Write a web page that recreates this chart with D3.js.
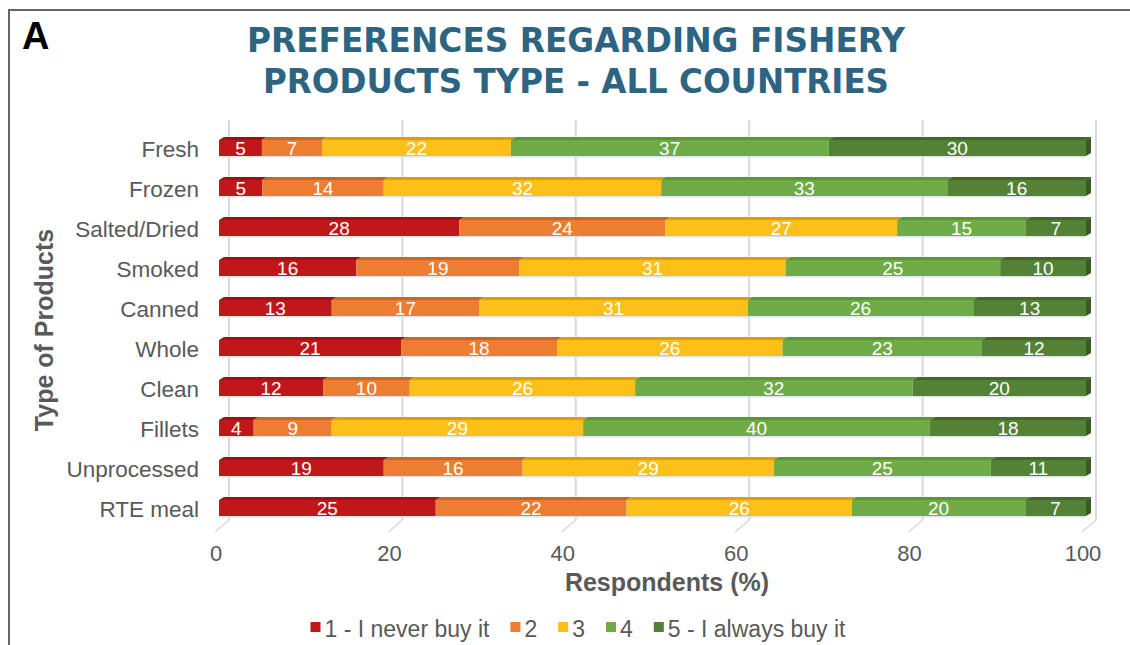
<!DOCTYPE html>
<html lang="en">
<head>
  <meta charset="UTF-8">
  <title>Preferences regarding fishery products type</title>
  <script src="https://d3js.org/d3.v7.min.js"></script>
  <style>
    body { margin: 0; background: #fff; }
    svg { font-family: "Liberation Sans", Arial, sans-serif; }
  </style>
</head>
<body>
<svg width="1130" height="645"></svg>
<script>
const categories = ["Fresh", "Frozen", "Salted/Dried", "Smoked", "Canned", "Whole", "Clean", "Fillets", "Unprocessed", "RTE meal"];
const seriesNames = ["1 - I never buy it", "2", "3", "4", "5 - I always buy it"];
const never   = [5, 5, 28, 16, 13, 21, 12, 4, 19, 25];
const two     = [7, 14, 24, 19, 17, 18, 10, 9, 16, 22];
const three   = [22, 32, 27, 31, 31, 26, 26, 29, 29, 26];
const four    = [37, 33, 15, 25, 26, 23, 32, 40, 25, 20];
const always  = [30, 16, 7, 10, 13, 12, 20, 18, 11, 7];
const xTicks  = [0, 20, 40, 60, 80, 100];

const colors    = ["#c0171a", "#ed7d31", "#fdbf19", "#6fac46", "#538135"];
const topColors = ["#9a1214", "#c4682a", "#d8a010", "#5c9438", "#42682a"];

const series = [never, two, three, four, always];
const rows = categories.map((c, i) => {
  const r = { cat: c };
  seriesNames.forEach((s, k) => r[s] = series[k][i]);
  return r;
});

const stack = d3.stack().keys(seriesNames).offset(d3.stackOffsetExpand);
const stacked = stack(rows);

const svg = d3.select("svg");

// frame
svg.append("path")
  .attr("d", "M9,645 L9,10 L1130,10")
  .attr("fill", "none")
  .attr("stroke", "#666")
  .attr("stroke-width", 2);

svg.append("text")
  .attr("x", 22).attr("y", 49)
  .attr("font-size", 38).attr("font-weight", "bold")
  .attr("fill", "#000")
  .text("A");

// title
const titleLines = [["PREFERENCES REGARDING FISHERY", 52, 658], ["PRODUCTS TYPE - ALL COUNTRIES", 93, 626]];
titleLines.forEach(([t, y, w]) => {
  svg.append("text")
    .attr("x", 576).attr("y", y)
    .attr("text-anchor", "middle")
    .attr("font-family", "'DejaVu Sans', Verdana, sans-serif")
    .attr("font-weight", "bold")
    .attr("font-size", 33)
    .attr("fill", "#2c6482")
    .attr("textLength", w)
    .attr("lengthAdjust", "spacingAndGlyphs")
    .text(t);
});

const x = d3.scaleLinear().domain([0, 1]).range([219, 1086]);
const y = d3.scalePoint().domain(categories).range([128, 528]).padding(0.5);

const depthX = 10;
const faceH = 16, topDx = 5, topDy = 3;

// gridlines on back wall + floor slants
xTicks.forEach(v => {
  const xb = x(v / 100) + depthX;
  svg.append("line")
    .attr("x1", xb).attr("x2", xb)
    .attr("y1", 120).attr("y2", 520)
    .attr("stroke", "#d9d9d9").attr("stroke-width", 2);
  svg.append("line")
    .attr("x1", xb).attr("y1", 520)
    .attr("x2", xb - 14).attr("y2", 532)
    .attr("stroke", "#d9d9d9").attr("stroke-width", 1.5);
  svg.append("text")
    .attr("x", x(v / 100) - 3).attr("y", 561)
    .attr("text-anchor", "middle")
    .attr("font-size", 22)
    .attr("fill", "#595959")
    .text(v);
});

// bars
stacked.forEach((s, k) => {
  const g = svg.append("g");
  s.forEach((d, i) => {
    const x0 = x(d[0]), x1 = x(d[1]);
    const yc = y(categories[i]);
    const yt = yc - faceH / 2;
    g.append("rect")
      .attr("x", x0).attr("y", yt + faceH)
      .attr("width", x1 - x0).attr("height", 1.5)
      .attr("fill", "#e4e4e4");
    g.append("path")
      .attr("d", `M${x0},${yt} L${x0 + topDx},${yt - topDy} L${x1 + topDx},${yt - topDy} L${x1},${yt} Z`)
      .attr("fill", topColors[k]);
    g.append("rect")
      .attr("x", x0).attr("y", yt)
      .attr("width", x1 - x0).attr("height", faceH)
      .attr("fill", colors[k]);
    if (k === stacked.length - 1) {
      g.append("path")
        .attr("d", `M${x1},${yt} L${x1 + topDx},${yt - topDy} L${x1 + topDx},${yt + faceH - topDy} L${x1},${yt + faceH} Z`)
        .attr("fill", "#3a5c24");
    }
    g.append("text")
      .attr("x", (x0 + x1) / 2).attr("y", yc + 6.5)
      .attr("text-anchor", "middle")
      .attr("font-size", 19)
      .attr("fill", "#fff")
      .text(series[k][i]);
  });
});

// category labels
categories.forEach(c => {
  svg.append("text")
    .attr("x", 199).attr("y", y(c) + 9)
    .attr("text-anchor", "end")
    .attr("font-size", 22.5)
    .attr("fill", "#595959")
    .text(c);
});

// axis titles
svg.append("text")
  .attr("x", 667).attr("y", 591)
  .attr("text-anchor", "middle")
  .attr("font-size", 25).attr("font-weight", "bold")
  .attr("fill", "#595959")
  .text("Respondents (%)");

svg.append("text")
  .attr("transform", "translate(53,330) rotate(-90)")
  .attr("text-anchor", "middle")
  .attr("font-size", 25).attr("font-weight", "bold")
  .attr("fill", "#595959")
  .text("Type of Products");

// legend
const legend = svg.append("g");
let lx = 0;
seriesNames.forEach((s, k) => {
  const item = legend.append("g").attr("transform", `translate(${lx},0)`);
  item.append("rect")
    .attr("x", 0).attr("y", -15)
    .attr("width", 10).attr("height", 10)
    .attr("fill", colors[k]);
  const t = item.append("text")
    .attr("x", 14).attr("y", 0)
    .attr("font-size", 23)
    .attr("fill", "#595959")
    .text(s);
  lx += 14 + t.node().getComputedTextLength() + 21;
});
const legendW = lx - 21;
legend.attr("transform", `translate(${578 - legendW / 2},637)`);
</script>
</body>
</html>
